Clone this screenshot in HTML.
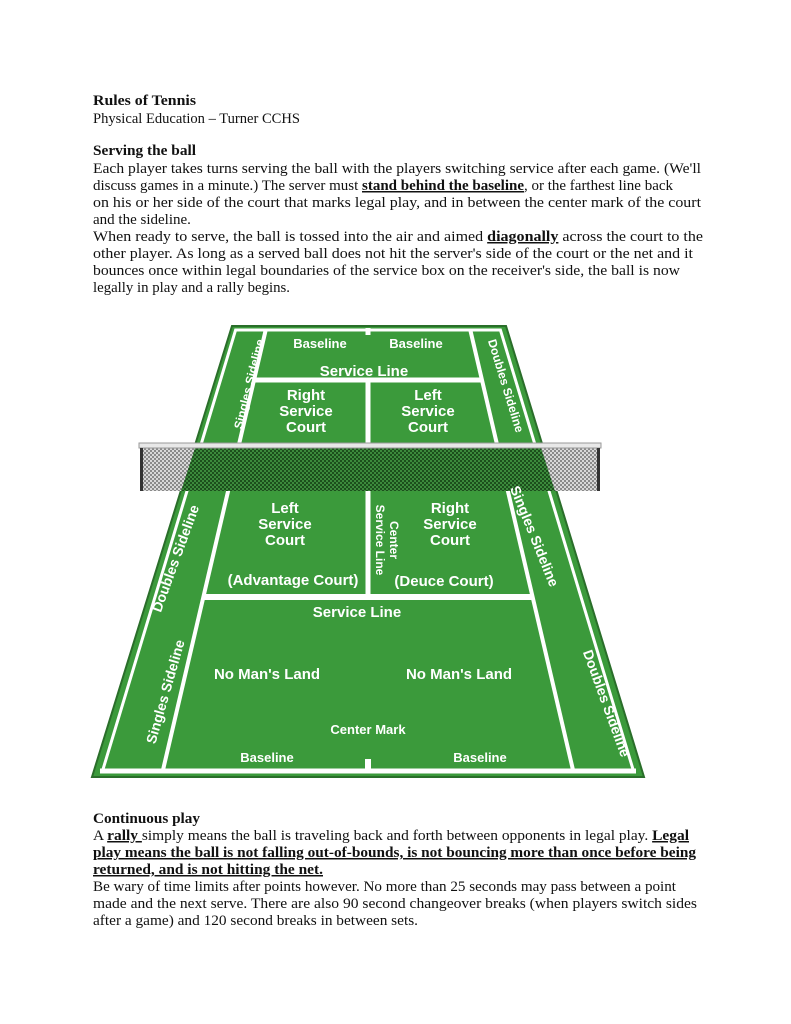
<!DOCTYPE html>
<html><head><meta charset="utf-8"><style>
html,body{margin:0;padding:0;background:#fff;width:791px;height:1024px;overflow:hidden}
svg{position:absolute;left:0;top:0}
.t{font-family:"Liberation Serif",serif;font-size:15px;fill:#111}
.b{font-weight:bold}
.u{text-decoration:underline}
.c{font-family:"Liberation Sans",sans-serif;font-weight:bold;fill:#fff;text-anchor:middle}
</style></head><body>
<svg width="791" height="1024" viewBox="0 0 791 1024">
<defs>
<pattern id="mg" width="4" height="4" patternUnits="userSpaceOnUse"><rect width="4" height="4" fill="#d8d8d8"/><rect width="2" height="2" fill="#8a8a8a"/><rect x="2" y="2" width="2" height="2" fill="#8a8a8a"/></pattern>
<pattern id="mk" width="4" height="4" patternUnits="userSpaceOnUse"><rect width="4" height="4" fill="#3c8a3c"/><rect width="2" height="2" fill="#1c4f1c"/><rect x="2" y="2" width="2" height="2" fill="#1c4f1c"/></pattern>
</defs>
<text class="t b" x="93" y="105" textLength="103" lengthAdjust="spacingAndGlyphs">Rules of Tennis</text>
<text class="t" x="93" y="123" textLength="207" lengthAdjust="spacingAndGlyphs">Physical Education – Turner CCHS</text>
<text class="t b" x="93" y="155" textLength="103" lengthAdjust="spacingAndGlyphs">Serving the ball</text>
<text class="t" x="93" y="173" textLength="608" lengthAdjust="spacingAndGlyphs">Each player takes turns serving the ball with the players switching service after each game. (We'll</text>
<text class="t" x="93" y="190" textLength="580" lengthAdjust="spacingAndGlyphs">discuss games in a minute.) The server must <tspan class="b u">stand behind the baseline</tspan>, or the farthest line back</text>
<text class="t" x="93" y="207" textLength="608" lengthAdjust="spacingAndGlyphs">on his or her side of the court that marks legal play, and in between the center mark of the court</text>
<text class="t" x="93" y="224">and the sideline.</text>
<text class="t" x="93" y="241" textLength="610" lengthAdjust="spacingAndGlyphs">When ready to serve, the ball is tossed into the air and aimed <tspan class="b u">diagonally</tspan> across the court to the</text>
<text class="t" x="93" y="258" textLength="600" lengthAdjust="spacingAndGlyphs">other player. As long as a served ball does not hit the server's side of the court or the net and it</text>
<text class="t" x="93" y="275" textLength="587" lengthAdjust="spacingAndGlyphs">bounces once within legal boundaries of the service box on the receiver's side, the ball is now</text>
<text class="t" x="93" y="292" textLength="197" lengthAdjust="spacingAndGlyphs">legally in play and a rally begins.</text>

<polygon points="232,326 506,326 644,777 92,777" fill="#3b9a3b" stroke="#2a6e2a" stroke-width="2"/>
<polygon points="235.6,330 500.4,330 633.2,770 102.8,770" fill="none" stroke="#fff" stroke-width="3"/>
<line x1="265.7" y1="330" x2="163" y2="770" stroke="#fff" stroke-width="4"/>
<line x1="470.3" y1="330" x2="573" y2="770" stroke="#fff" stroke-width="4"/>
<line x1="254" y1="380" x2="482" y2="380" stroke="#fff" stroke-width="5"/>
<line x1="203" y1="597" x2="533" y2="597" stroke="#fff" stroke-width="6"/>
<line x1="368" y1="380" x2="368" y2="597" stroke="#fff" stroke-width="5"/>
<line x1="368" y1="328" x2="368" y2="335" stroke="#fff" stroke-width="5"/>
<line x1="368" y1="759" x2="368" y2="771" stroke="#fff" stroke-width="6"/>
<line x1="100" y1="771" x2="636" y2="771" stroke="#fff" stroke-width="5"/>
<rect x="140" y="448" width="460" height="43" fill="url(#mg)"/>
<polygon points="195,448 541,448 555,491 181,491" fill="url(#mk)"/>
<rect x="139" y="443" width="462" height="5" fill="#e8e8e8" stroke="#999" stroke-width="1"/>
<rect x="140" y="448" width="3" height="43" fill="#333"/>
<rect x="597" y="448" width="3" height="43" fill="#333"/>

<g class="c" font-size="13">
<text x="320" y="348">Baseline</text><text x="416" y="348">Baseline</text>
</g>
<g class="c" font-size="15">
<text x="364" y="376">Service Line</text>
<text x="306" y="400">Right</text><text x="306" y="416">Service</text><text x="306" y="432">Court</text>
<text x="428" y="400">Left</text><text x="428" y="416">Service</text><text x="428" y="432">Court</text>
<text x="285" y="513">Left</text><text x="285" y="529">Service</text><text x="285" y="545">Court</text>
<text x="450" y="513">Right</text><text x="450" y="529">Service</text><text x="450" y="545">Court</text>
<text x="293" y="585">(Advantage Court)</text>
<text x="444" y="586">(Deuce Court)</text>
<text x="357" y="617">Service Line</text>
<text x="267" y="679">No Man's Land</text>
<text x="459" y="679">No Man's Land</text>
</g>
<g class="c" font-size="13">
<text x="368" y="734">Center Mark</text>
<text x="267" y="762">Baseline</text><text x="480" y="762">Baseline</text>
</g>
<g class="c" font-size="12">
<text transform="translate(253,385) rotate(-76)">Singles Sideline</text>
<text transform="translate(502,387) rotate(73)">Doubles Sideline</text>
<text transform="translate(376,540) rotate(90)">Service Line</text>
<text transform="translate(390,540) rotate(90)">Center</text>
</g>
<g class="c" font-size="14">
<text transform="translate(530,538) rotate(68)">Singles Sideline</text>
<text transform="translate(180,560) rotate(-70)">Doubles Sideline</text>
<text transform="translate(170,693) rotate(-74)">Singles Sideline</text>
<text transform="translate(602,705) rotate(70)">Doubles Sideline</text>
</g>

<text class="t b" x="93" y="823" textLength="107" lengthAdjust="spacingAndGlyphs">Continuous play</text>
<text class="t" x="93" y="840" textLength="596" lengthAdjust="spacingAndGlyphs">A <tspan class="b u">rally </tspan>simply means the ball is traveling back and forth between opponents in legal play. <tspan class="b u">Legal</tspan></text>
<text class="t b u" x="93" y="857" textLength="603" lengthAdjust="spacingAndGlyphs">play means the ball is not falling out-of-bounds, is not bouncing more than once before being</text>
<text class="t b u" x="93" y="874" textLength="230" lengthAdjust="spacingAndGlyphs">returned, and is not hitting the net.</text>
<text class="t" x="93" y="891" textLength="583" lengthAdjust="spacingAndGlyphs">Be wary of time limits after points however. No more than 25 seconds may pass between a point</text>
<text class="t" x="93" y="908" textLength="604" lengthAdjust="spacingAndGlyphs">made and the next serve. There are also 90 second changeover breaks (when players switch sides</text>
<text class="t" x="93" y="925" textLength="325" lengthAdjust="spacingAndGlyphs">after a game) and 120 second breaks in between sets.</text>
</svg>
</body></html>
